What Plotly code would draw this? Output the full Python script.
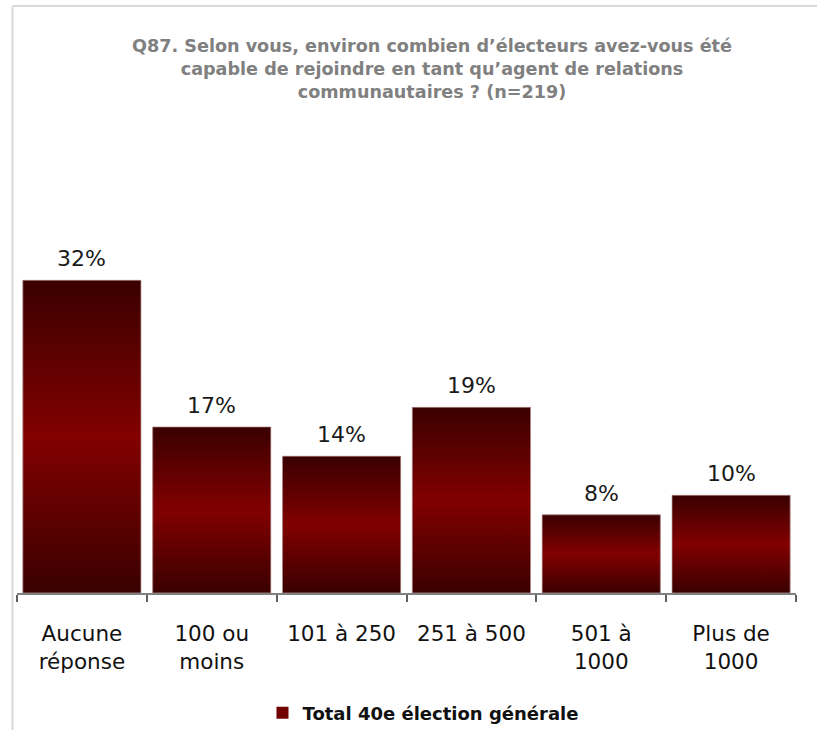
import plotly.graph_objects as go

categories = ["Aucune<br>réponse", "100 ou<br>moins", "101 à 250", "251 à 500", "501 à<br>1000", "Plus de<br>1000"]
values = [32, 17, 14, 19, 8, 10]
labels = ["32%", "17%", "14%", "19%", "8%", "10%"]
series_name = "Total 40e élection générale"
title_text = ("Q87. Selon vous, environ combien d\u2019électeurs avez-vous été<br>"
              "capable de rejoindre en tant qu\u2019agent de relations<br>"
              "communautaires ? (n=219)")

BAR_W = 0.91
W, H = 817, 730
L, R, T, B = 17, 21, 251, 137
plot_h = H - T - B
plot_w = W - L - R

fig = go.Figure()

# base bars (solid, also provides legend swatch)
fig.add_trace(go.Bar(
    x=categories, y=values, name=series_name,
    marker=dict(color="#700000", line=dict(width=0)),
    showlegend=True, hoverinfo="skip",
))

# gradient overlays on a numeric overlaying axis
grad = [[0, "#3a0000"], [0.5, "#820000"], [1, "#3a0000"]]
for i, v in enumerate(values):
    x0, x1 = i - BAR_W / 2, i + BAR_W / 2
    fig.add_trace(go.Scatter(
        x=[x0, x1, x1, x0, x0], y=[0, 0, v, v, 0],
        xaxis="x2", yaxis="y", mode="lines", fill="toself",
        fillgradient=dict(type="vertical", colorscale=grad),
        line=dict(color="rgba(185,160,160,0.9)", width=0.8),
        showlegend=False, hoverinfo="skip",
    ))

# data labels
for c, v, t in zip(categories, values, labels):
    fig.add_annotation(x=c, y=v, text=t, showarrow=False, xref="x", yref="y",
                       yanchor="bottom", yshift=7,
                       font=dict(family="DejaVu Sans", size=22, color="#1a1a1a"))

# light frame lines (left and top)
fig.add_shape(type="line", xref="paper", yref="paper",
              x0=(12.5 - L) / plot_w, x1=(12.5 - L) / plot_w,
              y0=-(B / plot_h), y1=(H - B - 6) / plot_h,
              line=dict(color="#d9d9d9", width=2))
fig.add_shape(type="line", xref="paper", yref="paper",
              x0=(12.5 - L) / plot_w, x1=(W - L + 5) / plot_w,
              y0=(H - B - 6) / plot_h, y1=(H - B - 6) / plot_h,
              line=dict(color="#d9d9d9", width=2))

fig.update_layout(
    width=W, height=H,
    margin=dict(l=L, r=R, t=T, b=B, autoexpand=False),
    paper_bgcolor="white", plot_bgcolor="white",
    bargap=1 - BAR_W,
    title=dict(text=title_text, xref="container", yref="container",
               x=432 / W, xanchor="center", y=1 - 52 / H, yanchor="top",
               font=dict(family="DejaVu Sans", size=17.6, color="#808080", weight="bold")),
    xaxis=dict(type="category", range=[-0.5, 5.5], showline=True, linecolor="#808080",
               linewidth=1.5, ticks="outside", tickson="boundaries", ticklen=7,
               tickcolor="#606060", tickwidth=1.5, showgrid=False, zeroline=False,
               tickfont=dict(family="DejaVu Sans", size=21.5, color="#111111"),
               ticklabelstandoff=20),
    xaxis2=dict(overlaying="x", range=[-0.5, 5.5], visible=False, showgrid=False,
                zeroline=False),
    yaxis=dict(range=[0, 35], visible=False, showgrid=False, zeroline=False),
    legend=dict(orientation="h", xref="paper", yref="paper",
                x=(423 - L) / plot_w, xanchor="center",
                y=-(713 - (H - B)) / plot_h, yanchor="middle",
                font=dict(family="DejaVu Sans", size=18, color="#111111", weight="bold"),
                itemwidth=30),
)

fig.write_html("out.html", config={"displayModeBar": False},
               post_script="document.body.style.margin='0px';")
